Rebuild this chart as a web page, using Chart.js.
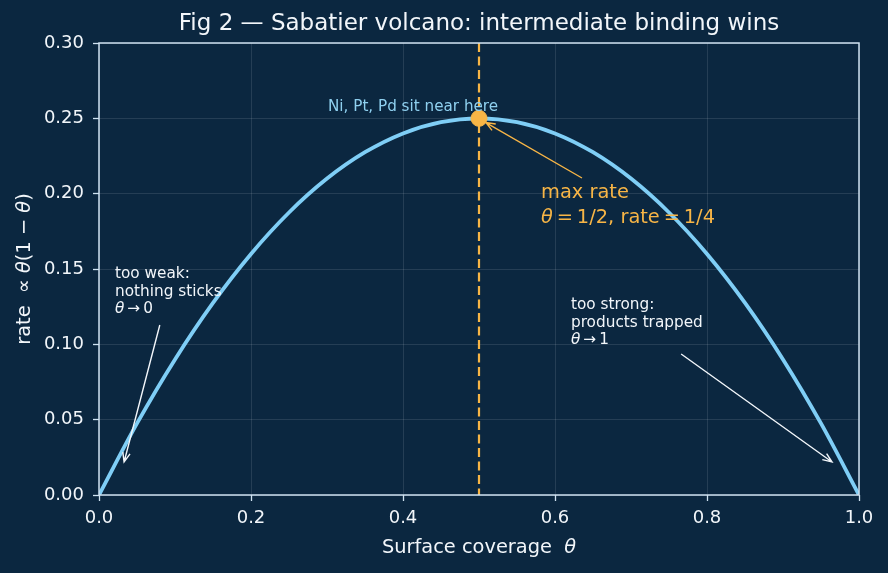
<!DOCTYPE html>
<html>
<head>
<meta charset="utf-8">
<script src="https://cdn.jsdelivr.net/npm/chart.js@4.4.0/dist/chart.umd.min.js"></script>
<style>
  html, body { margin: 0; padding: 0; background: #0b2740; }
  #wrap { width: 888px; height: 573px; }
</style>
</head>
<body>
<div id="wrap"><canvas id="volcano" width="888" height="573"></canvas></div>
<script>
// coverage and rate
const coverage = [0, 0.05, 0.1, 0.15, 0.2, 0.25, 0.3, 0.35, 0.4, 0.45, 0.5,
                  0.55, 0.6, 0.65, 0.7, 0.75, 0.8, 0.85, 0.9, 0.95, 1];
const rate = [0, 0.0475, 0.09, 0.1275, 0.16, 0.1875, 0.21, 0.2275, 0.24, 0.2475, 0.25,
              0.2475, 0.24, 0.2275, 0.21, 0.1875, 0.16, 0.1275, 0.09, 0.0475, 0];
const peak = [{ x: 0.5, y: 0.25 }];
const xTicks = [0, 0.2, 0.4, 0.6, 0.8, 1.0];
const yTicks = [0, 0.05, 0.1, 0.15, 0.2, 0.25, 0.3];

const BG = '#0b2740';
const FG = '#f2f6fa';
const AXIS = '#cfe2f1';
const ORANGE = '#f7b546';
const FONT = "'DejaVu Sans', sans-serif";

// text pieces: plain strings, or {t, it:true} for italic θ
const TH = { t: 'θ', it: true };
const TS = '\u2009';
const notes = [
    { lines: [['Ni, Pt, Pd sit near here']], x: 0.3013, y: 0.2575, size: 15.2, color: '#8fd0ef' },
    { lines: [['max rate'], [TH, TS + '=' + TS + '1/2, rate' + TS + '=' + TS + '1/4']], x: 0.5816, y: 0.2004, size: 19.4, color: ORANGE, lh: 24.5 },
    { lines: [['too weak:'], ['nothing sticks'], [TH, TS + '→' + TS + '0']], x: 0.021, y: 0.1467, size: 15.3, color: FG, lh: 17.6 },
    { lines: [['too strong:'], ['products trapped'], [TH, TS + '→' + TS + '1']], x: 0.621, y: 0.1261, size: 15.3, color: FG, lh: 17.6 }
];
const arrows = [
    { from: [0.6355, 0.2104], to: [0.509, 0.2472], color: ORANGE },
    { from: [0.080, 0.1128], to: [0.033, 0.0219], color: FG },
    { from: [0.766, 0.0936], to: [0.9645, 0.0219], color: FG }
];

function drawPieces(ctx, pieces, x0, y0, size) {
    let cx = x0;
    pieces.forEach(p => {
        const it = typeof p === 'object' && p.it;
        const t = typeof p === 'object' ? p.t : p;
        ctx.font = (it ? 'italic ' : '') + size + 'px ' + FONT;
        ctx.fillText(t, cx, y0);
        cx += ctx.measureText(t).width;
    });
    return cx - x0;
}

function piecesWidth(ctx, pieces, size) {
    let w = 0;
    pieces.forEach(p => {
        const it = typeof p === 'object' && p.it;
        const t = typeof p === 'object' ? p.t : p;
        ctx.font = (it ? 'italic ' : '') + size + 'px ' + FONT;
        w += ctx.measureText(t).width;
    });
    return w;
}

const decor = {
    id: 'decor',
    beforeDatasetsDraw(chart) {
        const { ctx, chartArea: a, scales: { x } } = chart;
        // dashed vertical at the optimum
        ctx.save();
        ctx.strokeStyle = ORANGE;
        ctx.lineWidth = 2.2;
        ctx.setLineDash([9, 4.5]);
        const px = x.getPixelForValue(0.5);
        ctx.beginPath();
        ctx.moveTo(px, a.top);
        ctx.lineTo(px, a.bottom);
        ctx.stroke();
        ctx.restore();
    },
    afterDraw(chart) {
        const { ctx, chartArea: a, scales: { x, y } } = chart;
        ctx.save();
        // frame
        ctx.strokeStyle = AXIS;
        ctx.lineWidth = 1.5;
        ctx.strokeRect(a.left, a.top, a.right - a.left, a.bottom - a.top);

        ctx.fillStyle = FG;
        ctx.textBaseline = 'middle';
        ctx.textAlign = 'center';
        ctx.font = '23px ' + FONT;
        ctx.fillText('Fig 2 — Sabatier volcano: intermediate binding wins', (a.left + a.right) / 2, 24);

        // axis titles
        ctx.textAlign = 'left';
        const xt = ['Surface coverage  ', TH];
        const xw = piecesWidth(ctx, xt, 19.4);
        drawPieces(ctx, xt, (a.left + a.right) / 2 - xw / 2, 548, 19.4);

        const yt = ['rate  ∝ ', TH, '(1 − ', TH, ')'];
        const yw = piecesWidth(ctx, yt, 19.4);
        ctx.save();
        ctx.translate(25, (a.top + a.bottom) / 2);
        ctx.rotate(-Math.PI / 2);
        drawPieces(ctx, yt, -yw / 2, 0, 19.4);
        ctx.restore();

        // notes
        notes.forEach(n => {
            ctx.fillStyle = n.color;
            const x0 = x.getPixelForValue(n.x);
            const y0 = y.getPixelForValue(n.y);
            n.lines.forEach((pieces, i) => drawPieces(ctx, pieces, x0, y0 + i * (n.lh || 0), n.size));
        });

        // arrows
        arrows.forEach(ar => {
            const x1 = x.getPixelForValue(ar.from[0]), y1 = y.getPixelForValue(ar.from[1]);
            const x2 = x.getPixelForValue(ar.to[0]), y2 = y.getPixelForValue(ar.to[1]);
            const ang = Math.atan2(y2 - y1, x2 - x1);
            ctx.strokeStyle = ar.color;
            ctx.lineWidth = 1.4;
            ctx.beginPath();
            ctx.moveTo(x1, y1);
            ctx.lineTo(x2, y2);
            ctx.moveTo(x2 - 10 * Math.cos(ang - 0.38), y2 - 10 * Math.sin(ang - 0.38));
            ctx.lineTo(x2, y2);
            ctx.lineTo(x2 - 10 * Math.cos(ang + 0.38), y2 - 10 * Math.sin(ang + 0.38));
            ctx.stroke();
        });
        ctx.restore();
    }
};

const bgPlugin = {
    id: 'bg',
    beforeDraw(chart) {
        const ctx = chart.ctx;
        ctx.save();
        ctx.fillStyle = BG;
        ctx.fillRect(0, 0, chart.width, chart.height);
        ctx.restore();
    }
};

const gridOpts = { color: 'rgba(255,255,255,0.14)', lineWidth: 0.8, tickColor: AXIS, tickLength: 6, tickWidth: 1.3 };

new Chart(document.getElementById('volcano'), {
    type: 'scatter',
    data: {
        datasets: [{
            type: 'line',
            data: coverage.map((c, i) => ({ x: c, y: rate[i] })),
            borderColor: '#7fcef6',
            borderWidth: 3.8,
            pointRadius: 0,
            cubicInterpolationMode: 'monotone',
            fill: false,
            order: 2
        }, {
            data: peak,
            backgroundColor: ORANGE,
            borderColor: ORANGE,
            pointRadius: 8,
            order: 1
        }]
    },
    options: {
        responsive: false,
        animation: false,
        layout: { padding: { top: 43, right: 29, left: 0, bottom: 0 } },
        plugins: {
            legend: { display: false },
            tooltip: { enabled: false }
        },
        scales: {
            x: {
                type: 'linear',
                min: 0, max: 1,
                afterBuildTicks: s => { s.ticks = xTicks.map(v => ({ value: v })); },
                afterFit: s => { s.height = 78; },
                border: { display: false },
                grid: gridOpts,
                ticks: { color: FG, font: { family: FONT, size: 18 }, padding: 7, maxRotation: 0, callback: v => v.toFixed(1) }
            },
            y: {
                min: 0, max: 0.3,
                afterBuildTicks: s => { s.ticks = yTicks.map(v => ({ value: v })); },
                afterFit: s => { s.width = 99; },
                border: { display: false },
                grid: gridOpts,
                ticks: { color: FG, font: { family: FONT, size: 18 }, padding: 9, callback: v => v.toFixed(2) }
            }
        }
    },
    plugins: [bgPlugin, decor]
});
</script>
</body>
</html>
